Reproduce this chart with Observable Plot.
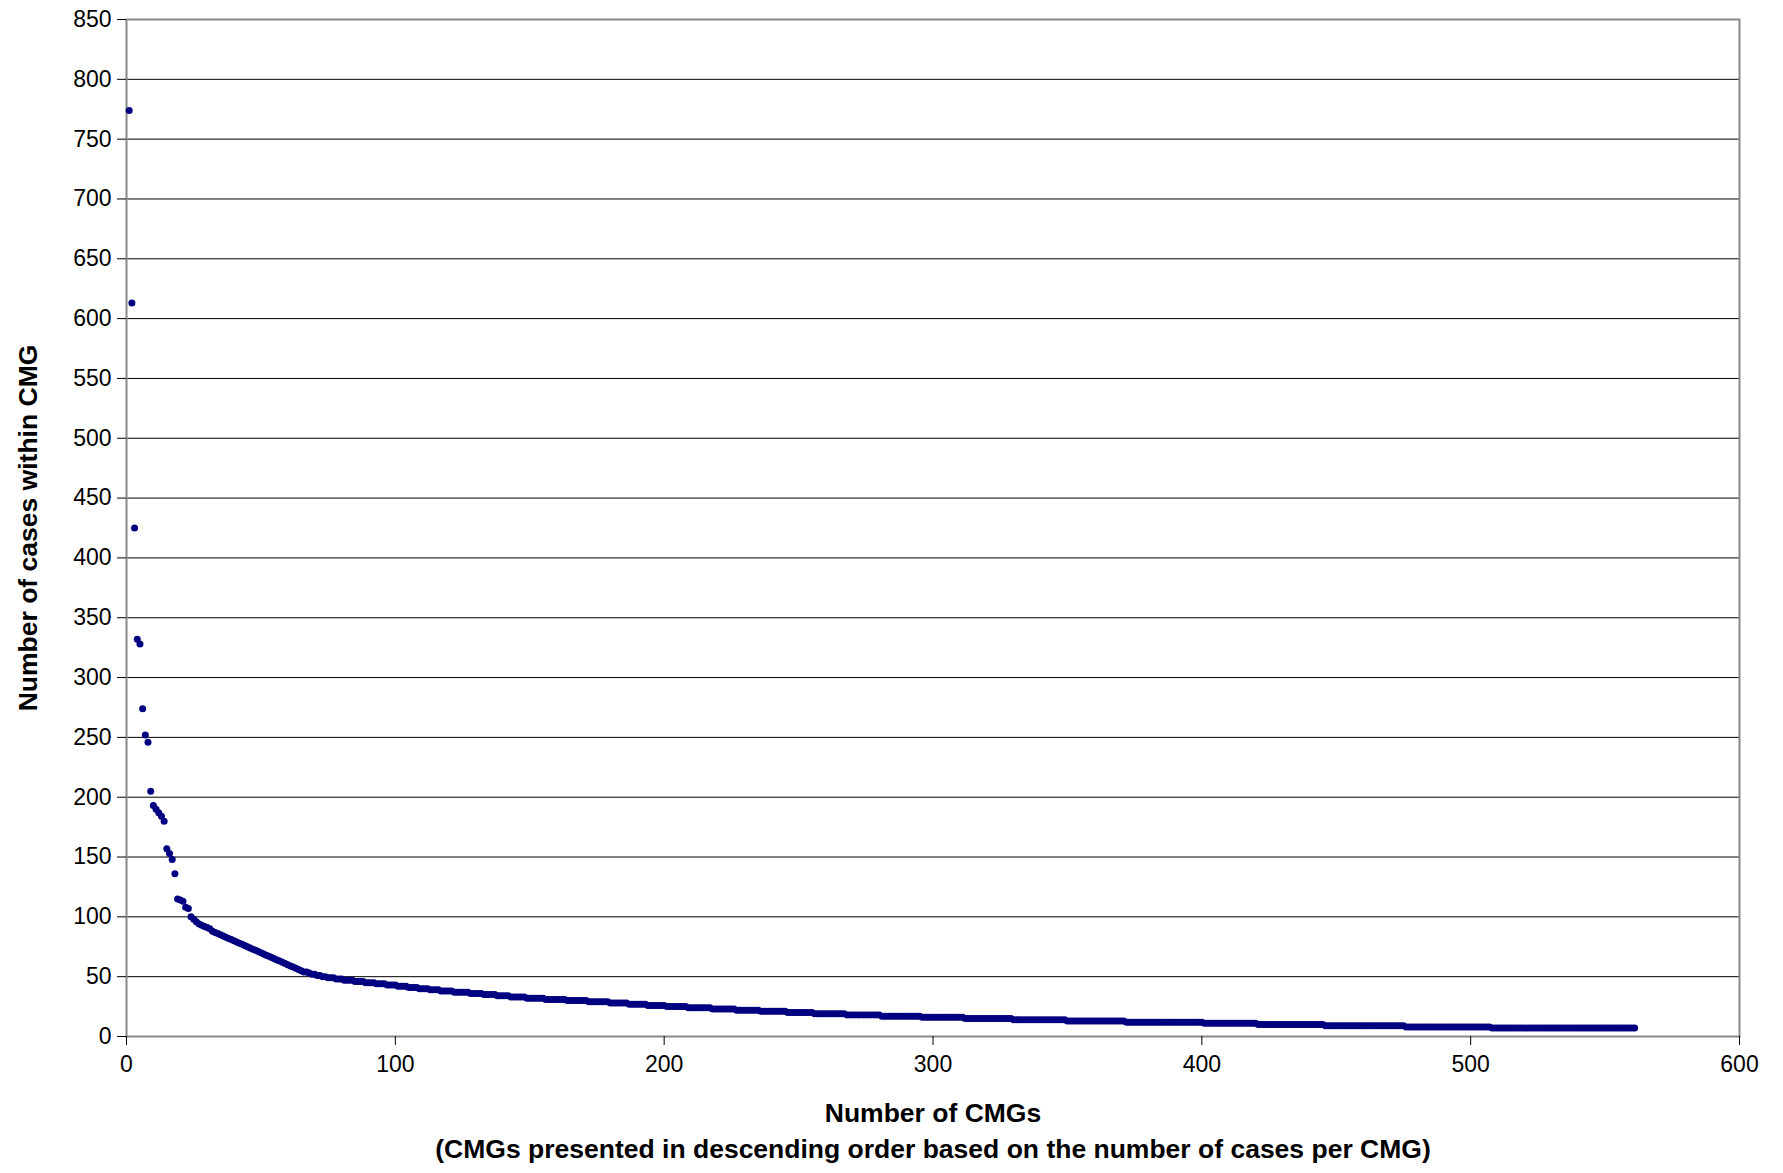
<!DOCTYPE html>
<html>
<head>
<meta charset="utf-8">
<script src="https://cdn.jsdelivr.net/npm/d3@7"></script>
<script src="https://cdn.jsdelivr.net/npm/@observablehq/plot@0.6"></script>
<style>
  body { margin: 0; background: #fff; }
  #chart svg { font-family: "Liberation Sans", Arial, sans-serif; }
</style>
</head>
<body>
<div id="chart"></div>
<script>
// head of the curve, one value per CMG
const headValues = [774, 613, 425, 332, 328, 274, 252, 246, 205, 193, 190, 187, 184, 180,
  157, 153, 148, 136, 115, 114, 113, 108, 107, 100,
  98, 96, 94, 93, 92, 91, 90, 88, 87, 86, 85,
  84, 83, 82, 81, 80, 79, 78, 77, 76, 75, 74, 73, 72, 71, 70,
  69, 68, 67, 66, 65, 64, 63, 62, 61, 60,
  59, 58, 57, 56, 55, 54, 54, 53, 52, 52,
  51, 51, 50, 50, 49, 49, 49, 48, 48, 48,
  47, 47, 47, 47, 46, 46, 46, 46, 45, 45, 45, 45, 44, 44, 44, 44, 43, 43, 43, 43];
// tail of the curve as [cases, how many CMGs have that count]
const tailRuns = [[42, 4], [41, 4], [40, 4], [39, 4], [38, 5], [37, 6], [36, 5], [35, 5],
  [34, 5], [33, 6], [32, 7], [31, 8], [30, 8], [29, 8], [28, 7], [27, 7], [26, 7], [25, 8],
  [24, 9], [23, 9], [22, 9], [21, 10], [20, 10], [19, 12], [18, 13], [17, 15], [16, 16],
  [15, 18], [14, 20], [13, 22], [12, 29], [11, 20], [10, 25], [9, 30], [8, 32], [7, 54]];
const xTicks = [0, 100, 200, 300, 400, 500, 600];
const yTicks = d3.range(0, 851, 50);

let values = headValues.slice();
tailRuns.forEach(([v, n]) => { for (let i = 0; i < n; i++) values.push(v); });
let data = values.map((v, i) => ({x: i + 1, y: v}));

let chart = Plot.plot({
  width: 1783,
  height: 1173,
  marginLeft: 126,
  marginRight: 44,
  marginTop: 19,
  marginBottom: 137,
  style: {fontSize: "23px", fontFamily: "Liberation Sans, Arial, sans-serif", color: "#000"},
  x: {domain: [0, 600], ticks: xTicks, label: null},
  y: {domain: [0, 850], ticks: yTicks, label: null},
  marks: [
    Plot.gridY(yTicks, {stroke: "#000", strokeOpacity: 1, strokeWidth: 1}),
    Plot.frame({stroke: "#888", strokeWidth: 2}),
    Plot.axisX({ticks: xTicks, tickSize: 9, tickPadding: 10, fontSize: 23}),
    Plot.axisY({ticks: yTicks, tickSize: 9, tickPadding: 6, fontSize: 23}),
    Plot.dot(data, {x: "x", y: "y", r: 3.5, fill: "#000080", stroke: "none"}),
    Plot.text(["Number of CMGs"], {frameAnchor: "bottom", dy: 85, fontSize: 26.5, fontWeight: "bold"}),
    Plot.text(["(CMGs presented in descending order based on the number of cases per CMG)"],
      {frameAnchor: "bottom", dy: 121, fontSize: 26.5, fontWeight: "bold"}),
    Plot.text(["Number of cases within CMG"], {frameAnchor: "left", dx: -98, rotate: -90, textAnchor: "middle", fontSize: 26.5, fontWeight: "bold"})
  ]
});

d3.select('#chart').append(() => chart);
</script>
</body>
</html>
